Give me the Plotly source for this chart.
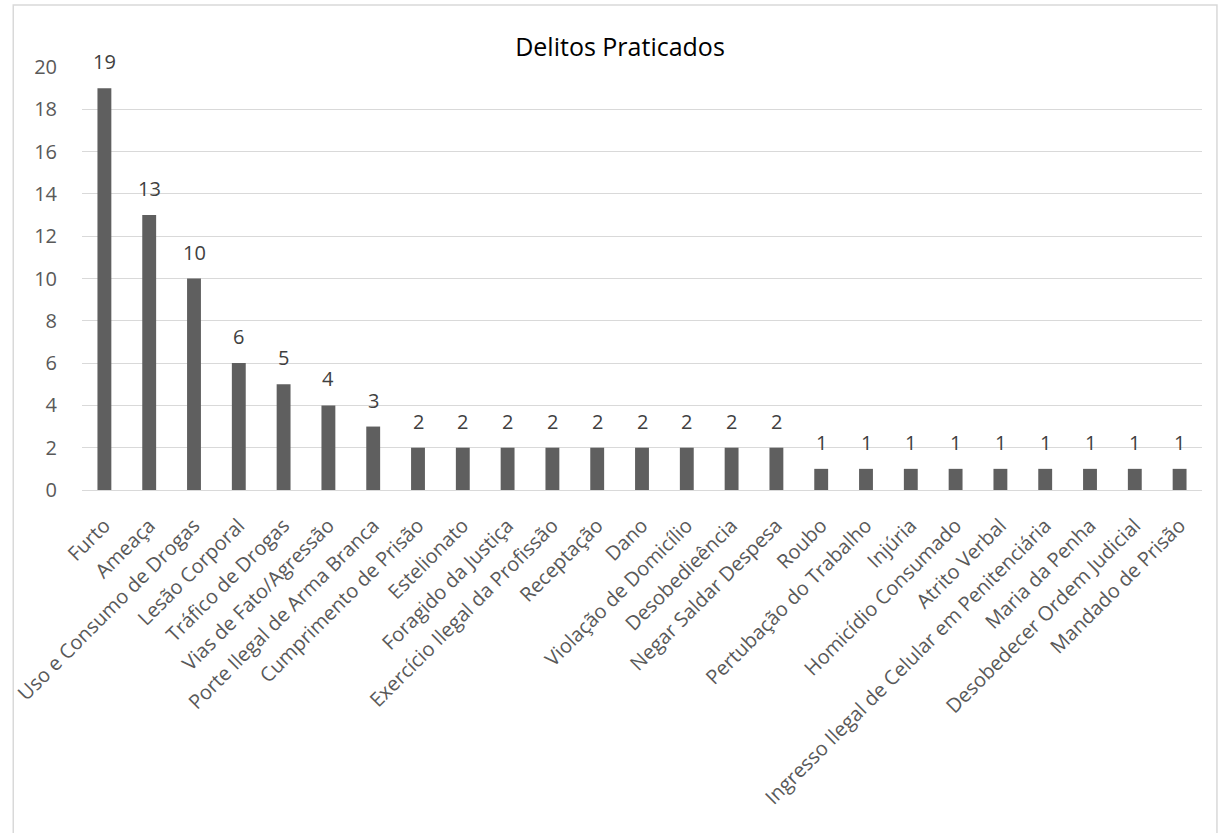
import plotly.graph_objects as go

categories = [
    "Furto", "Ameaça", "Uso e Consumo de Drogas", "Lesão Corporal", "Tráfico de Drogas",
    "Vias de Fato/Agressão", "Porte Ilegal de Arma Branca", "Cumprimento de Prisão",
    "Estelionato", "Foragido da Justiça", "Exercício Ilegal da Profissão", "Receptação",
    "Dano", "Violação de Domicílio", "Desobedieência", "Negar Saldar Despesa", "Roubo",
    "Pertubação do Trabalho", "Injúria", "Homicídio Consumado", "Atrito Verbal",
    "Ingresso Ilegal de Celular em Penitenciária", "Maria da Penha",
    "Desobedecer Ordem Judicial", "Mandado de Prisão",
]
values = [19, 13, 10, 6, 5, 4, 3, 2, 2, 2, 2, 2, 2, 2, 2, 2, 1, 1, 1, 1, 1, 1, 1, 1, 1]
y_ticks = [0, 2, 4, 6, 8, 10, 12, 14, 16, 18, 20]

FONT = "Open Sans"
TXT = "#595959"

fig = go.Figure(go.Bar(
    x=categories, y=values,
    marker=dict(color="#5f5f5f", line=dict(width=0)),
    hoverinfo="x+y",
))

L, R, T, B = 78, 17, 67, 343
W, H = 1219, 833
pw = W - L - R
ph = H - T - B

annotations = [
    dict(x=c, y=v, xref="x", yref="y", text=str(v), showarrow=False,
         yanchor="bottom", yshift=11,
         font=dict(family=FONT, size=20, color="#404040"))
    for c, v in zip(categories, values)
]

fig.update_layout(
    width=W, height=H,
    margin=dict(l=L, r=R, t=T, b=B, pad=0),
    paper_bgcolor="white", plot_bgcolor="white",
    bargap=0.69,
    showlegend=False,
    font=dict(family=FONT, size=20, color=TXT),
    title=dict(text="Delitos Praticados", x=620 / W, xanchor="center",
               y=1 - 47 / H, yanchor="middle",
               font=dict(family=FONT, size=25, color="#000000")),
    xaxis=dict(tickangle=-45, showgrid=False, showline=False, ticks="",
               ticklabelstandoff=19,
               tickfont=dict(family=FONT, size=20, color=TXT)),
    yaxis=dict(range=[0, 20], tickvals=y_ticks, showgrid=True, gridcolor="#d9d9d9",
               gridwidth=1.3, zeroline=True, zerolinecolor="#d9d9d9", zerolinewidth=1.3,
               showline=False, ticks="", ticklabelstandoff=24,
               tickfont=dict(family=FONT, size=20, color=TXT)),
    annotations=annotations,
    shapes=[dict(type="rect", xref="paper", yref="paper",
                 x0=(9 - L) / pw, x1=(1217 - L) / pw,
                 y0=((H - B) - (H + 20)) / ph, y1=((H - B) - 5) / ph,
                 line=dict(color="#d9d9d9", width=1.5), fillcolor="rgba(0,0,0,0)",
                 layer="below")],
)

fig.write_html("out.html")
